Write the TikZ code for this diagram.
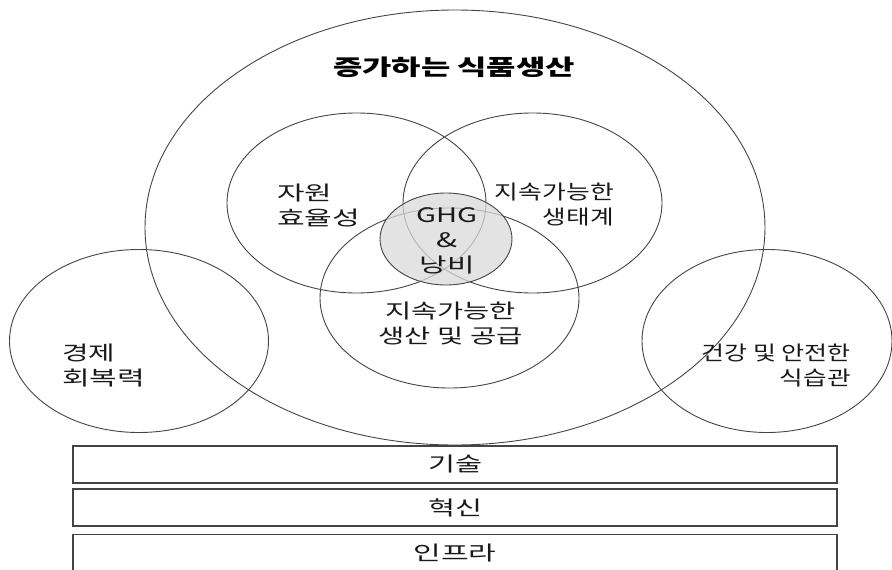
\documentclass[tikz,border=0pt]{standalone}
\usepackage{fontspec}
\usepackage{graphicx}
\setmainfont{Noto Sans CJK KR}
\usetikzlibrary{shapes.geometric}
\definecolor{linec}{HTML}{444444}
\definecolor{ghgfill}{HTML}{D9D9D9}
\newcommand{\fw}[2]{\resizebox{#1pt}{\height}{#2}}
\begin{document}
\begin{tikzpicture}[x=1pt,y=-1pt,
  ring/.style={draw=linec, line width=0.9pt, ellipse, inner sep=0pt},
  lbl/.style={font=\fontsize{20}{25}\selectfont, inner sep=0pt, text=black!90},
  title/.style={font=\fontsize{22}{26}\selectfont\bfseries, inner sep=0pt, text=black},
  bar/.style={draw=linec, line width=1.2pt, minimum width=764pt, minimum height=37pt, inner sep=0pt, font=\fontsize{20}{25}\selectfont, text=black!90}
]
\useasboundingbox (0,0) rectangle (892,570);
% outer ellipse
\node[ring, minimum width=620pt, minimum height=435pt] (food) at (455,227.5) {};
% side ellipses
\node[ring, minimum width=259pt, minimum height=183pt] (econ) at (139,341) {};
\node[ring, minimum width=250pt, minimum height=183pt] (diet) at (767,341) {};
% venn
\node[ring, minimum width=259pt, minimum height=180pt] (res) at (356.5,203) {};
\node[ring, minimum width=259pt, minimum height=180pt] (eco) at (532.5,203) {};
\node[ring, minimum width=259pt, minimum height=180pt] (prod) at (449.5,298) {};
\node[ring, minimum width=132pt, minimum height=92pt, fill=ghgfill, fill opacity=0.75] (ghg) at (446,239) {};
% labels
\node[title] (ttl) at (454,67.5) {\fw{242}{증가하는 식품생산}};
\node[lbl, anchor=west, align=left] (tres) at (277,205) {\fw{55}{자원}\\\fw{83}{효율성}};
\node[lbl, anchor=east, align=right] (teco) at (614,205) {\fw{119}{지속가능한}\\\fw{71}{생태계}};
\node[lbl, align=center] (tghg) at (447,241) {\fw{61}{GHG}\\\fw{21}{\&}\\\fw{55}{낭비}};
\node[lbl, align=center] (tprod) at (450.5,323) {\fw{131}{지속가능한}\\\fw{144}{생산 및 공급}};
\node[lbl, anchor=west, align=left] (tecon) at (62,366) {\fw{53}{경제}\\\fw{83}{회복력}};
\node[lbl, anchor=east, align=right] (tdiet) at (851,366) {\fw{149}{건강 및 안전한}\\\fw{71}{식습관}};
% bars
\node[bar] (tech) at (455,464.5) {\fw{54}{기술}};
\node[bar] (innov) at (455,507.5) {\fw{54}{혁신}};
\node[bar] (infra) at (455,553) {\fw{83}{인프라}};
\end{tikzpicture}
\end{document}
